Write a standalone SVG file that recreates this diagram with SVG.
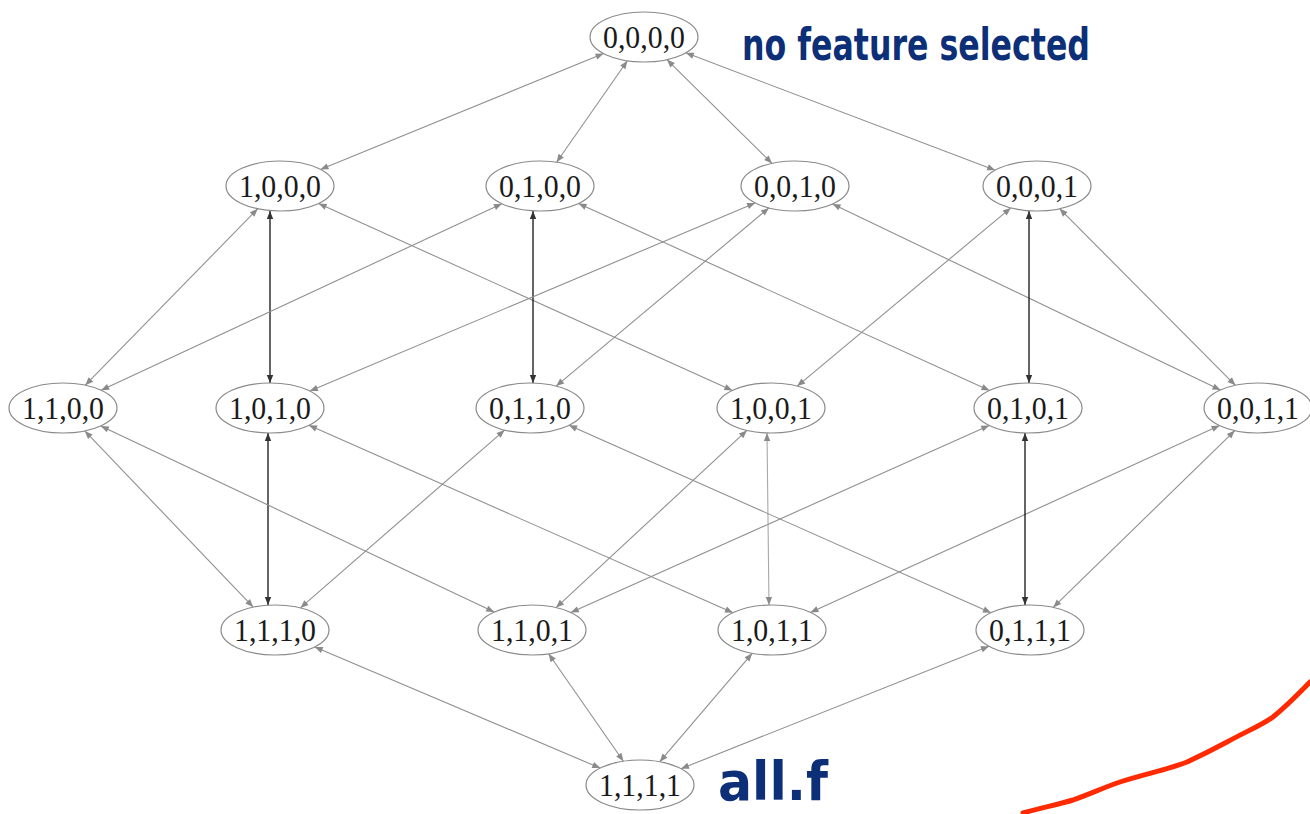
<svg xmlns="http://www.w3.org/2000/svg" width="1310" height="814" viewBox="0 0 1310 814">
<style>
.n ellipse{fill:#fff;stroke:#8a8a8a;stroke-width:1.2}
.n text{font-family:"Liberation Serif","Times New Roman",serif;font-size:31px;fill:#1a1a1a;text-anchor:middle;dominant-baseline:central}
.e line{stroke:#909090;stroke-width:1.1;marker-start:url(#ah);marker-end:url(#ah)}
.e line.d{stroke:#111;stroke-width:1.3;marker-start:url(#ahd);marker-end:url(#ahd)}
.e line.l{stroke:#a8a8a8}
.hw{font-family:"DejaVu Sans","Liberation Sans",sans-serif;font-weight:bold;fill:#0c2f78}
</style>
<defs>
<marker id="ah" viewBox="0 0 10 10" refX="10" refY="5" markerWidth="10" markerHeight="8" markerUnits="userSpaceOnUse" orient="auto-start-reverse"><path d="M0,1 L10,5 L0,9 Z" fill="#8a8a8a"/></marker>
<marker id="ahd" viewBox="0 0 10 10" refX="10" refY="5" markerWidth="10" markerHeight="8" markerUnits="userSpaceOnUse" orient="auto-start-reverse"><path d="M0,1 L10,5 L0,9 Z" fill="#333"/></marker>
</defs>
<rect width="1310" height="814" fill="#fff"/>
<g id="connectors" class="e">
<line x1="603.6" y1="53.6" x2="320.4" y2="169.4"/>
<line x1="627.4" y1="60.8" x2="556.6" y2="162.2"/>
<line x1="666.9" y1="59.6" x2="772.1" y2="163.4"/>
<line x1="685.8" y1="52.8" x2="995.2" y2="170.2"/>
<line x1="257.7" y1="208.8" x2="85.3" y2="385.2"/>
<line class="d" x1="270" y1="211" x2="270" y2="383"/>
<line x1="318.6" y1="203.5" x2="732.4" y2="390.5"/>
<line x1="501.9" y1="203.7" x2="101.1" y2="390.3"/>
<line class="d" x1="533" y1="211" x2="533" y2="383"/>
<line x1="578.5" y1="203.5" x2="989.5" y2="390.5"/>
<line x1="755.1" y1="202.9" x2="309.9" y2="391.1"/>
<line x1="768.9" y1="207.9" x2="556.1" y2="386.1"/>
<line x1="832.5" y1="204" x2="1220.5" y2="390"/>
<line x1="1010.8" y1="207.9" x2="797.2" y2="386.1"/>
<line class="d" x1="1029" y1="211" x2="1029" y2="383"/>
<line x1="1059.6" y1="208.7" x2="1235.4" y2="385.3"/>
<line x1="253.2" y1="607.1" x2="84.8" y2="430.9"/>
<line class="d" x1="268" y1="605" x2="268" y2="433"/>
<line x1="300.4" y1="607.9" x2="504.6" y2="430.1"/>
<line x1="494.2" y1="612.1" x2="100.8" y2="425.9"/>
<line x1="556.1" y1="607.6" x2="746.9" y2="430.4"/>
<line x1="570.8" y1="612.6" x2="989.2" y2="425.4"/>
<line x1="733" y1="612.7" x2="309" y2="425.3"/>
<line class="l" x1="769" y1="605" x2="767" y2="433"/>
<line x1="810.4" y1="612.4" x2="1219.6" y2="425.6"/>
<line x1="991" y1="612.7" x2="569" y2="425.3"/>
<line class="d" x1="1025" y1="605" x2="1025" y2="433"/>
<line x1="1053.2" y1="607.4" x2="1234.8" y2="430.6"/>
<line x1="600.2" y1="768.1" x2="314.8" y2="646.9"/>
<line x1="623.4" y1="761.2" x2="548.6" y2="653.8"/>
<line x1="659.8" y1="761.7" x2="752.2" y2="653.3"/>
<line x1="681" y1="768.7" x2="989" y2="646.3"/>
</g>
<g id="n0000" class="n"><ellipse cx="644" cy="37" rx="54" ry="25"/><text x="644" y="37" textLength="82" lengthAdjust="spacingAndGlyphs">0,0,0,0</text></g>
<g id="n1000" class="n"><ellipse cx="280" cy="186" rx="54" ry="25"/><text x="280" y="186" textLength="82" lengthAdjust="spacingAndGlyphs">1,0,0,0</text></g>
<g id="n0100" class="n"><ellipse cx="540" cy="186" rx="54" ry="25"/><text x="540" y="186" textLength="82" lengthAdjust="spacingAndGlyphs">0,1,0,0</text></g>
<g id="n0010" class="n"><ellipse cx="795" cy="186" rx="54" ry="25"/><text x="795" y="186" textLength="82" lengthAdjust="spacingAndGlyphs">0,0,1,0</text></g>
<g id="n0001" class="n"><ellipse cx="1037" cy="186" rx="54" ry="25"/><text x="1037" y="186" textLength="82" lengthAdjust="spacingAndGlyphs">0,0,0,1</text></g>
<g id="n1100" class="n"><ellipse cx="63" cy="408" rx="54" ry="25"/><text x="63" y="408" textLength="82" lengthAdjust="spacingAndGlyphs">1,1,0,0</text></g>
<g id="n1010" class="n"><ellipse cx="270" cy="408" rx="54" ry="25"/><text x="270" y="408" textLength="82" lengthAdjust="spacingAndGlyphs">1,0,1,0</text></g>
<g id="n0110" class="n"><ellipse cx="530" cy="408" rx="54" ry="25"/><text x="530" y="408" textLength="82" lengthAdjust="spacingAndGlyphs">0,1,1,0</text></g>
<g id="n1001" class="n"><ellipse cx="771" cy="408" rx="54" ry="25"/><text x="771" y="408" textLength="82" lengthAdjust="spacingAndGlyphs">1,0,0,1</text></g>
<g id="n0101" class="n"><ellipse cx="1028" cy="408" rx="54" ry="25"/><text x="1028" y="408" textLength="82" lengthAdjust="spacingAndGlyphs">0,1,0,1</text></g>
<g id="n0011" class="n"><ellipse cx="1258" cy="408" rx="54" ry="25"/><text x="1258" y="408" textLength="82" lengthAdjust="spacingAndGlyphs">0,0,1,1</text></g>
<g id="n1110" class="n"><ellipse cx="275" cy="630" rx="54" ry="25"/><text x="275" y="630" textLength="82" lengthAdjust="spacingAndGlyphs">1,1,1,0</text></g>
<g id="n1101" class="n"><ellipse cx="532" cy="630" rx="54" ry="25"/><text x="532" y="630" textLength="82" lengthAdjust="spacingAndGlyphs">1,1,0,1</text></g>
<g id="n1011" class="n"><ellipse cx="772" cy="630" rx="54" ry="25"/><text x="772" y="630" textLength="82" lengthAdjust="spacingAndGlyphs">1,0,1,1</text></g>
<g id="n0111" class="n"><ellipse cx="1030" cy="630" rx="54" ry="25"/><text x="1030" y="630" textLength="82" lengthAdjust="spacingAndGlyphs">0,1,1,1</text></g>
<g id="n1111" class="n"><ellipse cx="640" cy="785" rx="54" ry="25"/><text x="640" y="785" textLength="82" lengthAdjust="spacingAndGlyphs">1,1,1,1</text></g>
<g id="annotations">
<text class="hw" x="742" y="60" font-size="44" textLength="348" lengthAdjust="spacingAndGlyphs">no feature selected</text>
<text class="hw" x="718" y="800" font-size="54" textLength="110" lengthAdjust="spacingAndGlyphs">all.f</text>
<path d="M1023,813 C1040,808 1060,804 1073,800 C1090,794 1105,787 1120,782 C1145,774 1170,769 1187,762 C1200,756 1214,749 1227,742 C1245,732 1260,726 1273,717 C1290,703 1300,692 1310,682" fill="none" stroke="#ff2a00" stroke-width="5" stroke-linecap="round"/>
</g>
</svg>
